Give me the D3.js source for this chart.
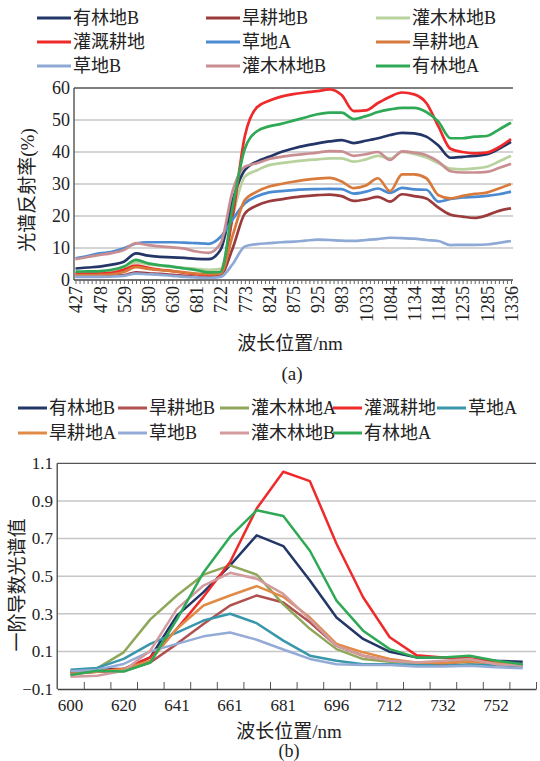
<!DOCTYPE html>
<html>
<head>
<meta charset="utf-8">
<script src="https://cdn.jsdelivr.net/npm/d3@7/dist/d3.min.js"></script>
<style>
  body { margin: 0; background: #fff; }
  svg, svg text { font-family: "Liberation Serif", "Times New Roman", Times, "Noto Sans CJK SC", serif; }
  svg { display: block; }
</style>
</head>
<body>
<div id="app"></div>
<script>
// ---------- (a) 光谱反射率 ----------
const bandLabelsA = ['427', '478', '529', '580', '630', '681', '722', '773', '824', '875', '925', '983', '1033', '1084', '1134', '1184', '1235', '1285', '1336']
const yTicksA = [0, 10, 20, 30, 40, 50, 60]
const namesA = ['有林地B', '旱耕地B', '灌木林地B', '灌溉耕地', '草地A', '旱耕地A', '草地B', '灌木林地B', '有林地A']
// 每半个标签间隔取一个值 (37个)
const aForestB = [3.6, 3.9, 4.2, 4.8, 5.7, 8.3, 7.6, 7.2, 7.1, 6.9, 6.6, 6.5, 9.5, 25, 34.4, 37, 38.5, 40, 41.1, 42, 42.7, 43.3, 43.7, 42.8, 43.5, 44.3, 45.3, 46, 45.8, 44.8, 42, 38.2, 38.5, 38.8, 39.3, 41, 43.2]
const aDryB = [1.2, 1.2, 1.2, 1.3, 1.5, 2.4, 2.1, 1.9, 1.6, 1.3, 1, 0.9, 1.5, 10, 20.8, 23.3, 24.6, 25.2, 25.8, 26.2, 26.5, 26.7, 26.2, 24.7, 25.2, 26, 24.5, 26.8, 26.2, 25.5, 22.6, 20.4, 19.8, 19.4, 20.2, 21.6, 22.4]
const aShrubLight = [2, 2, 2.2, 2.6, 3.5, 5.5, 4.9, 4.5, 4.1, 3.8, 3.5, 3.2, 3.5, 20, 32.3, 34.3, 35.9, 36.5, 37, 37.4, 37.7, 38, 38, 37, 37.7, 38.8, 38, 40, 39.4, 38.3, 36.5, 34.8, 34.6, 34.9, 35.4, 37, 38.8]
const aIrrig = [2, 2, 2, 2.2, 3.2, 4.5, 3.8, 3.2, 2.8, 2.2, 1.8, 1.5, 2.5, 20, 45, 54, 56, 57.3, 58.1, 58.6, 59, 59.6, 57.8, 52.8, 53, 55.3, 57.3, 58.6, 58, 55.3, 48, 41, 40, 39.6, 39.8, 41.5, 44]
const aGrassA = [6.8, 7.5, 8.3, 8.8, 9.9, 11.4, 11.8, 11.8, 11.8, 11.7, 11.5, 11.3, 13.5, 19, 24, 26.2, 27.4, 27.8, 28.1, 28.3, 28.4, 28.5, 28.4, 27, 27.6, 28.6, 27.2, 28.8, 28.3, 28.2, 24.5, 25.3, 25.8, 26, 26.3, 26.8, 27.6]
const aDryA = [1.5, 1.5, 1.6, 1.8, 2.5, 4, 3.5, 3.1, 2.8, 2.4, 2, 1.8, 2, 14, 25, 27.6, 29.2, 30, 30.7, 31.3, 31.7, 31.9, 30.8, 28.7, 29.5, 31.8, 27.8, 33, 33, 31.8, 26.5, 25.5, 26.3, 26.9, 27.3, 28.6, 30]
const aGrassB = [1, 1, 1, 1.1, 1.3, 2, 1.8, 1.6, 1.3, 1, 0.8, 0.7, 1, 5, 10.5, 11.2, 11.5, 11.8, 12, 12.3, 12.6, 12.5, 12.3, 12.2, 12.5, 12.8, 13.2, 13.1, 12.9, 12.5, 12.2, 10.9, 11, 11, 11.1, 11.6, 12.2]
const aShrubPink = [6.5, 7.2, 7.8, 8.4, 9.4, 11.5, 10.9, 10.5, 10.2, 9.8, 8.9, 8.5, 11.5, 28, 35.4, 36.5, 37.8, 38.5, 39, 39.4, 39.8, 40.3, 40.2, 38.8, 39.3, 40, 37.5, 40.2, 39.8, 39, 37, 34, 33.6, 33.6, 33.8, 35, 36.3]
const aForestA = [2.6, 2.7, 2.8, 3.2, 4.2, 6.3, 5.2, 4.6, 4.2, 3.6, 3.1, 2.4, 2.5, 23, 41, 46.5, 48, 48.8, 49.8, 50.8, 51.8, 52.3, 52.3, 50.3, 51.2, 52.5, 53.3, 53.8, 53.8, 52.5, 49.5, 44.3, 44.3, 44.8, 45, 47, 49.2]

// ---------- (b) 一阶导数光谱 ----------
const bandLabelsB = ['600', '620', '641', '661', '681', '696', '712', '732', '752']
const yTicksB = [-0.1, 0.1, 0.3, 0.5, 0.7, 0.9, 1.1]
const namesB = ['有林地B', '旱耕地B', '灌木林地A', '灌溉耕地', '草地A', '旱耕地A', '草地B', '灌木林地B', '有林地A']
const bForestB = [-0.01, 0.006, 0.006, 0.068, 0.29, 0.415, 0.557, 0.717, 0.66, 0.477, 0.28, 0.166, 0.098, 0.068, 0.068, 0.06, 0.05, 0.045]
const bDryB = [-0.02, -0.008, -0.004, 0.041, 0.14, 0.246, 0.344, 0.397, 0.36, 0.255, 0.13, 0.077, 0.05, 0.038, 0.032, 0.05, 0.032, 0.024]
const bShrubA = [-0.01, 0.01, 0.095, 0.27, 0.397, 0.508, 0.557, 0.508, 0.35, 0.22, 0.112, 0.059, 0.045, 0.038, 0.038, 0.05, 0.038, 0.024]
const bIrrig = [-0.015, -0.003, 0.006, 0.068, 0.22, 0.39, 0.575, 0.86, 1.055, 1.005, 0.672, 0.388, 0.175, 0.08, 0.068, 0.063, 0.041, 0.027]
const bGrassA = [0.002, 0.012, 0.06, 0.14, 0.2, 0.264, 0.3, 0.25, 0.157, 0.077, 0.05, 0.032, 0.032, 0.027, 0.024, 0.032, 0.027, 0.02]
const bDryA = [-0.02, -0.008, 0.006, 0.05, 0.22, 0.344, 0.397, 0.447, 0.39, 0.28, 0.14, 0.095, 0.06, 0.041, 0.038, 0.045, 0.038, 0.027]
const bGrassB = [-0.005, 0.003, 0.033, 0.1, 0.14, 0.18, 0.2, 0.162, 0.11, 0.06, 0.032, 0.027, 0.027, 0.02, 0.02, 0.024, 0.015, 0.01]
const bShrubB = [-0.035, -0.03, -0.003, 0.104, 0.326, 0.45, 0.518, 0.486, 0.406, 0.27, 0.13, 0.077, 0.05, 0.041, 0.05, 0.059, 0.032, 0.024]
const bForestA = [-0.026, -0.003, -0.007, 0.041, 0.27, 0.52, 0.71, 0.85, 0.82, 0.635, 0.37, 0.21, 0.112, 0.068, 0.068, 0.077, 0.05, 0.032]

const colorsA = ['#233667', '#9c3b3c', '#b8d29e', '#ee2a2b', '#4c8bd2', '#d87a3c', '#8ea9d5', '#c98e92', '#2fa955']
const colorsB = ['#233667', '#b0504f', '#8fa75a', '#ee2a2b', '#3a97ab', '#e08a46', '#93abd6', '#d39b9e', '#2fa955']

const svg = d3.select('#app')
  .append('svg')
  .attr('width', 540)
  .attr('height', 761)

function legend({ names, colors, cols, rows, lineLen, fontSize }) {
  const g = svg.append('g')
  names.forEach((name, i) => {
    const cx = cols[i % cols.length]
    const cy = rows[Math.floor(i / cols.length)]
    g.append('line')
      .attr('x1', cx).attr('x2', cx + lineLen)
      .attr('y1', cy).attr('y2', cy)
      .attr('stroke', colors[i])
      .attr('stroke-width', 3)
    g.append('text')
      .attr('x', cx + lineLen + 2)
      .attr('y', cy)
      .attr('dy', '.35em')
      .attr('font-size', fontSize)
      .attr('fill', '#222')
      .text(name)
  })
}

function gridY(y, values, x0, x1, skipLast) {
  svg.append('g')
    .selectAll('line')
    .data(values)
    .join('line')
    .attr('x1', x0).attr('x2', x1)
    .attr('y1', d => y(d)).attr('y2', d => y(d))
    .attr('stroke', (d, i) => i === values.length - 1 && skipLast ? '#555' : '#c6c6c6')
    .attr('stroke-width', (d, i) => i === values.length - 1 && skipLast ? 1.3 : 1.5)
}

// 图(a)
function chartA() {
  const box = { left: 74, right: 513, top: 88, bottom: 280 }
  const bandCount = (bandLabelsA.length - 1) * 6 // 每个标签之间6个波段
  const x = d3.scaleLinear().domain([0, bandCount]).range([75.5, 511])
  const y = d3.scaleLinear().domain([0, 60]).range([box.bottom, box.top])

  legend({ names: namesA, colors: colorsA, cols: [37, 206, 376], rows: [18, 42, 66], lineLen: 34, fontSize: 18 })

  gridY(y, yTicksA.slice(1), box.left, box.right, true)

  // 曲线
  const series = [aForestB, aDryB, aShrubLight, aIrrig, aGrassA, aDryA, aGrassB, aShrubPink, aForestA]
  const line = d3.line()
    .x((d, i) => x(i * 3))
    .y(d => y(d))
    .curve(d3.curveMonotoneX)
  svg.append('g')
    .selectAll('path')
    .data(series)
    .join('path')
    .attr('d', d => line(d))
    .attr('fill', 'none')
    .attr('stroke', (d, i) => colorsA[i])
    .attr('stroke-width', 2.7)
    .attr('stroke-linejoin', 'round')

  // x轴
  const xAxis = d3.axisBottom(x)
    .tickValues(d3.range(0, bandCount + 1))
    .tickSizeInner(4)
    .tickSizeOuter(0)
    .tickFormat(d => d % 6 === 0 ? bandLabelsA[d / 6] : '')
  const gx = svg.append('g')
    .attr('transform', `translate(0, ${box.bottom})`)
    .call(xAxis)
    .attr('font-family', null)
  gx.select('.domain').attr('stroke', '#444').attr('stroke-width', 1.3).attr('d', `M${box.left},0H${box.right}`)
  gx.selectAll('.tick line').attr('stroke', '#666')
  gx.selectAll('text')
    .attr('transform', 'rotate(-90)')
    .attr('x', -6)
    .attr('y', 0)
    .attr('dy', '.35em')
    .attr('text-anchor', 'end')
    .attr('font-size', 18)
    .attr('fill', '#222')

  // y轴
  svg.append('line')
    .attr('x1', box.left).attr('x2', box.left)
    .attr('y1', box.top).attr('y2', box.bottom)
    .attr('stroke', '#444').attr('stroke-width', 1.3)
  svg.append('g')
    .selectAll('text')
    .data(yTicksA)
    .join('text')
    .attr('x', 70)
    .attr('y', d => y(d))
    .attr('dy', '.35em')
    .attr('text-anchor', 'end')
    .attr('font-size', 18)
    .attr('fill', '#222')
    .text(d => d)

  svg.append('text')
    .attr('transform', 'translate(27, 190) rotate(-90)')
    .attr('text-anchor', 'middle')
    .attr('dy', '.35em')
    .attr('font-size', 19)
    .attr('fill', '#222')
    .text('光谱反射率(%)')
  svg.append('text')
    .attr('x', 290).attr('y', 343)
    .attr('dy', '.35em')
    .attr('text-anchor', 'middle')
    .attr('font-size', 19)
    .attr('fill', '#222')
    .text('波长位置/nm')
  svg.append('text')
    .attr('x', 292).attr('y', 373)
    .attr('dy', '.35em')
    .attr('text-anchor', 'middle')
    .attr('font-size', 19)
    .attr('fill', '#222')
    .text('(a)')
}

// 图(b)
function chartB() {
  const box = { left: 57.2, right: 536, top: 463.3, bottom: 689 }
  const bandCount = bandLabelsB.length * 2
  const x = d3.scaleLinear().domain([0, bandCount]).range([box.left, box.right])
  const y = d3.scaleLinear().domain([-0.1, 1.1]).range([box.bottom, box.top])

  legend({ names: namesB, colors: colorsB, cols: [18, 118, 220, 333, 437], rows: [408, 433], lineLen: 29, fontSize: 18 })

  gridY(y, yTicksB.slice(1), box.left, box.right, true)

  const series = [bForestB, bDryB, bShrubA, bIrrig, bGrassA, bDryA, bGrassB, bShrubB, bForestA]
  const line = d3.line()
    .x((d, i) => x(i + 0.5))
    .y(d => y(d))
  svg.append('g')
    .selectAll('path')
    .data(series)
    .join('path')
    .attr('d', d => line(d))
    .attr('fill', 'none')
    .attr('stroke', (d, i) => colorsB[i])
    .attr('stroke-width', 2.5)
    .attr('stroke-linejoin', 'round')

  // x轴, 刻度朝内
  const xAxis = d3.axisBottom(x)
    .tickValues(d3.range(1, bandCount + 1))
    .tickSizeInner(-7)
    .tickSizeOuter(0)
    .tickFormat('')
  const gx = svg.append('g')
    .attr('transform', `translate(0, ${box.bottom})`)
    .call(xAxis)
  gx.select('.domain').attr('stroke', '#444').attr('stroke-width', 1.3)
  gx.selectAll('.tick line').attr('stroke', '#555')
  svg.append('g')
    .selectAll('text')
    .data(bandLabelsB)
    .join('text')
    .attr('x', (d, i) => x(i * 2 + 0.5))
    .attr('y', box.bottom + 16)
    .attr('dy', '.35em')
    .attr('text-anchor', 'middle')
    .attr('font-size', 17)
    .attr('fill', '#222')
    .text(d => d)

  svg.append('line')
    .attr('x1', box.left).attr('x2', box.left)
    .attr('y1', box.top).attr('y2', box.bottom)
    .attr('stroke', '#444').attr('stroke-width', 1.3)
  svg.append('g')
    .selectAll('text')
    .data(yTicksB)
    .join('text')
    .attr('x', 53)
    .attr('y', d => y(d))
    .attr('dy', '.35em')
    .attr('text-anchor', 'end')
    .attr('font-size', 17)
    .attr('fill', '#222')
    .text(d => d3.format('.1f')(d))

  svg.append('text')
    .attr('transform', 'translate(17, 585) rotate(-90)')
    .attr('text-anchor', 'middle')
    .attr('dy', '.35em')
    .attr('font-size', 19)
    .attr('fill', '#222')
    .text('一阶导数光谱值')
  svg.append('text')
    .attr('x', 289).attr('y', 731)
    .attr('dy', '.35em')
    .attr('text-anchor', 'middle')
    .attr('font-size', 19)
    .attr('fill', '#222')
    .text('波长位置/nm')
  svg.append('text')
    .attr('x', 289).attr('y', 751)
    .attr('dy', '.35em')
    .attr('text-anchor', 'middle')
    .attr('font-size', 18)
    .attr('fill', '#222')
    .text('(b)')
}

chartA()
chartB()
</script>
</body>
</html>
